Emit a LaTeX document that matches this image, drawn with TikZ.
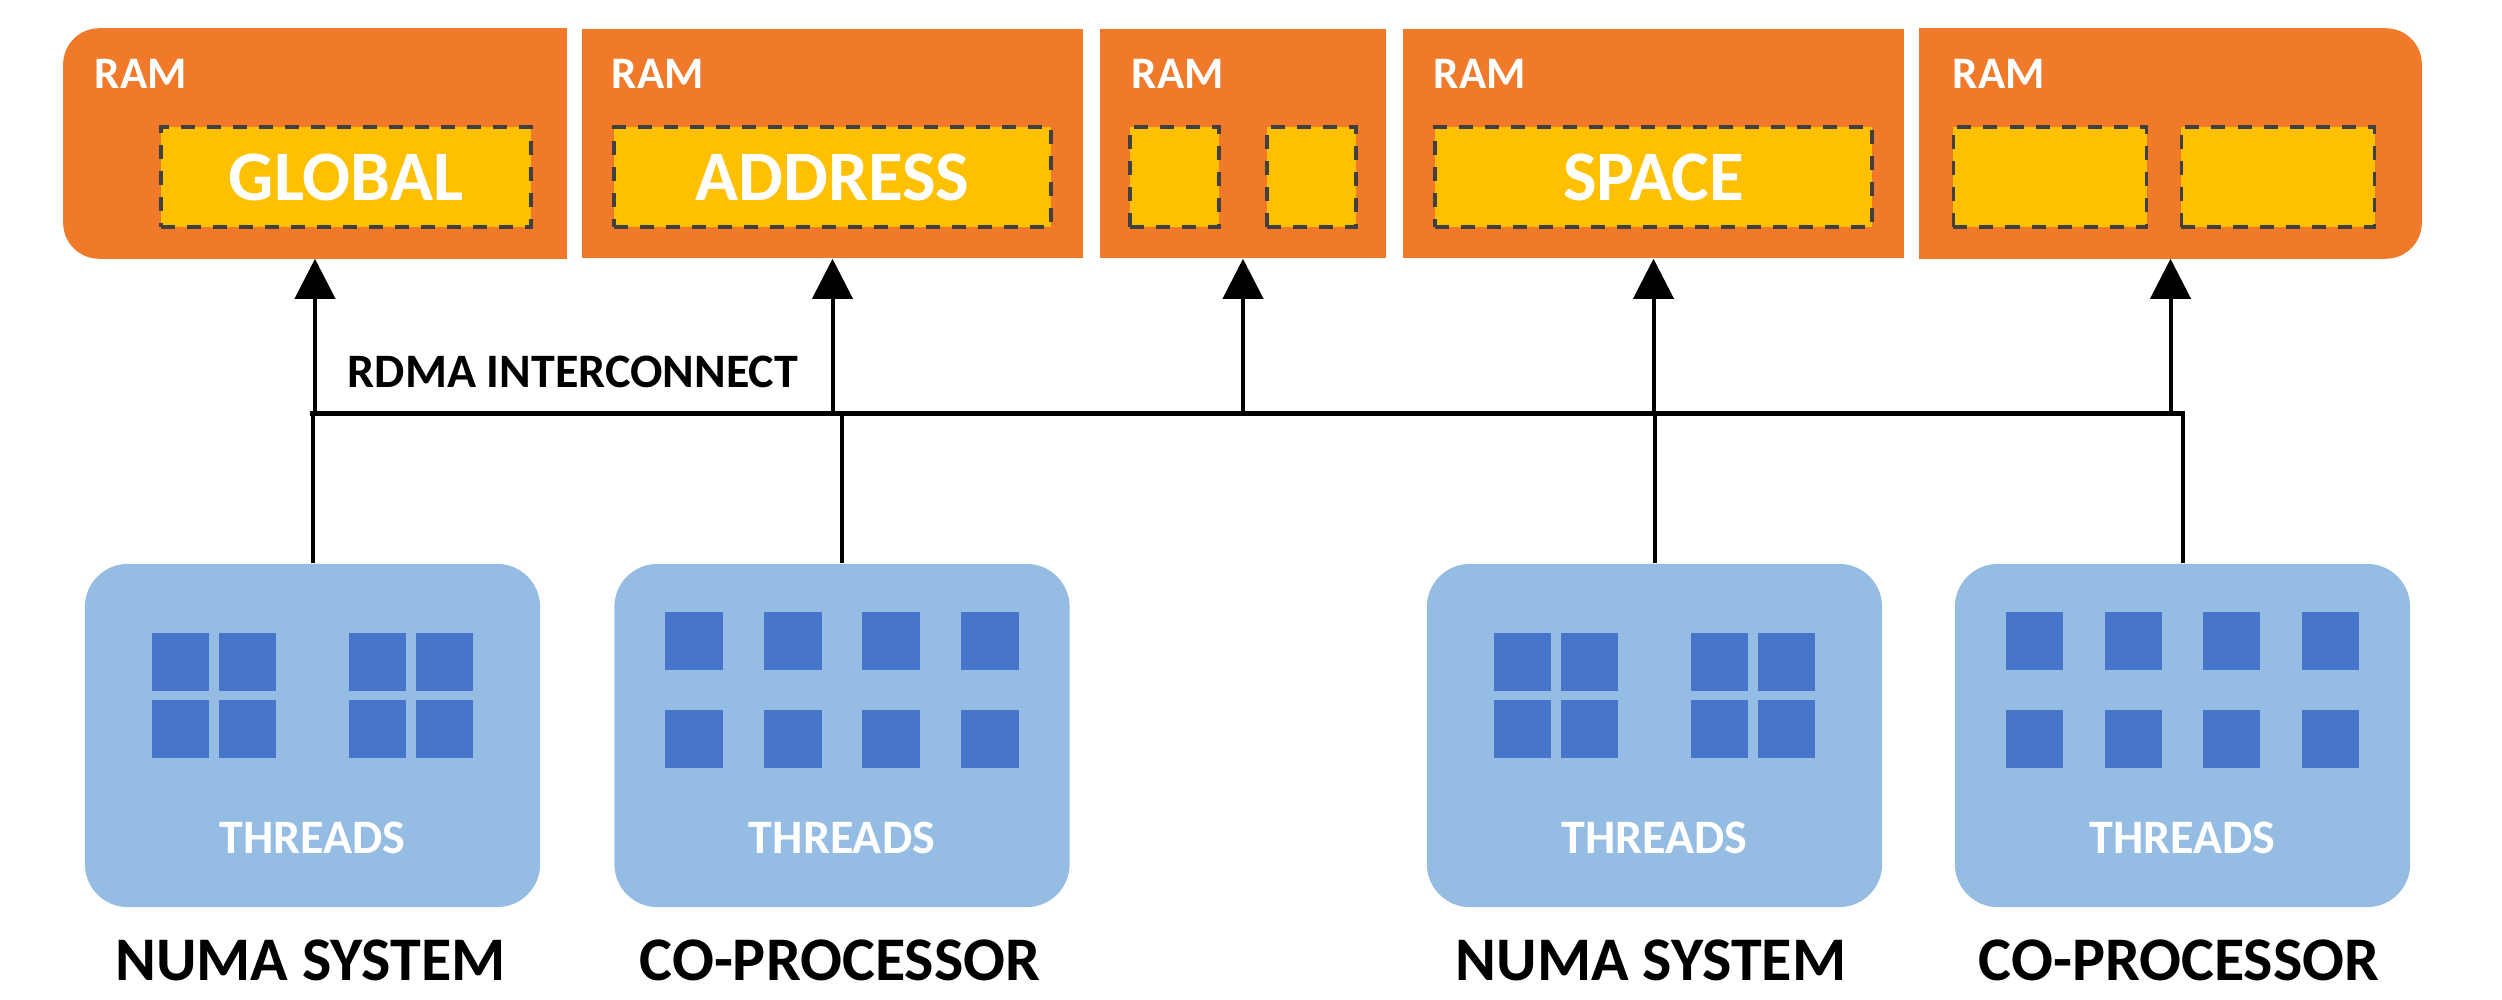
\documentclass[tikz,border=0pt]{standalone}
\usepackage{fontspec}
\setmainfont{Carlito}
\usetikzlibrary{arrows.meta}
\definecolor{ramc}{HTML}{F07A2A}
\definecolor{yelc}{HTML}{FFC000}
\definecolor{dashc}{HTML}{404040}
\definecolor{thc}{HTML}{95BDE3}
\definecolor{sqc}{HTML}{4775CA}
\tikzset{
 ramblock/.style={inner sep=0, minimum height=2.29cm},
 yelbox/.style={draw=dashc, fill=yelc, line width=0.035cm, dash pattern=on 0.14cm off 0.12cm,
   minimum height=1.0cm, inner sep=0, text=white, font=\bfseries\fontsize{20.2}{24}\selectfont},
 ramlabel/.style={anchor=base west, inner sep=0, text=white, font=\bfseries\fontsize{12.8}{15}\selectfont},
 thbox/.style={fill=thc, rounded corners=0.43cm, minimum width=4.55cm, minimum height=3.43cm, inner sep=0},
 core/.style={fill=sqc, minimum width=0.57cm, minimum height=0.57cm, inner sep=0},
 thlabel/.style={anchor=base, inner sep=0, text=white, font=\bfseries\fontsize{13.66}{16}\selectfont},
 syslabel/.style={anchor=base, inner sep=0, text=black, font=\bfseries\fontsize{17.64}{21}\selectfont},
 buslabel/.style={anchor=base west, inner sep=0, text=black, font=\bfseries\fontsize{13.66}{16}\selectfont},
 arr/.style={line width=0.04cm, -{Triangle[length=0.4cm,width=0.4cm]}},
 conn/.style={line width=0.04cm},
 busline/.style={line width=0.05cm, line cap=rect},
}
\begin{document}
\begin{tikzpicture}[x=0.01cm,y=-0.01cm]
\useasboundingbox (0,0) rectangle (2502,1000);
% RAM blocks
\node[ramblock, minimum width=5.02cm] (r1) at (315,143.5) {};
\fill[ramc, rounded corners=0.36cm] (r1.north west) rectangle (r1.south east);
\fill[ramc] (r1.north) rectangle (r1.south east);
\node[ramblock, fill=ramc, minimum width=5.01cm] (r2) at (832.5,143.5) {};
\node[ramblock, fill=ramc, minimum width=2.86cm] (r3) at (1243,143.5) {};
\node[ramblock, fill=ramc, minimum width=5.01cm] (r4) at (1653.5,143.5) {};
\node[ramblock, minimum width=5.01cm] (r5) at (2170.5,143.5) {};
\fill[ramc, rounded corners=0.36cm] (r5.north west) rectangle (r5.south east);
\fill[ramc] (r5.north west) rectangle (r5.south);
% RAM labels
\node[ramlabel] (l1) at (94,88) {RAM};
\node[ramlabel] (l2) at (611,88) {RAM};
\node[ramlabel] (l3) at (1131,88) {RAM};
\node[ramlabel] (l4) at (1433,88) {RAM};
\node[ramlabel] (l5) at (1952,88) {RAM};
% address-space parts
\node[yelbox, minimum width=3.70cm] (y1) at (346,177) {GLOBAL};
\node[yelbox, minimum width=4.37cm] (y2) at (832.5,177) {ADDRESS};
\node[yelbox, minimum width=0.89cm] (y3a) at (1174.5,177) {};
\node[yelbox, minimum width=0.89cm] (y3b) at (1311.5,177) {};
\node[yelbox, minimum width=4.37cm] (y4) at (1653.5,177) {SPACE};
\node[yelbox, minimum width=1.93cm] (y5a) at (2050,177) {};
\node[yelbox, minimum width=1.93cm] (y5b) at (2278,177) {};
% thread boxes
\node[thbox] (t1) at (312.5,735.5) {};
\node[thbox] (t2) at (842,735.5) {};
\node[thbox] (t3) at (1654.5,735.5) {};
\node[thbox] (t4) at (2182.5,735.5) {};
% cores: NUMA systems
\foreach \bx/\bn in {312.5/1,1654.5/3}{
  \foreach \dx [count=\i] in {-132,-65,65,132}{
    \foreach \yy [count=\j] in {662,729}{
      \node[core] (c\bn-\i-\j) at ({\bx+(\dx)},\yy) {};
    }
  }
}
% cores: co-processors
\foreach \bx/\bn in {842/2,2182.5/4}{
  \foreach \dx [count=\i] in {-148,-49,49,148}{
    \foreach \yy [count=\j] in {641,739}{
      \node[core] (c\bn-\i-\j) at ({\bx+(\dx)},\yy) {};
    }
  }
}
% thread labels
\node[thlabel] (h1) at (312.5,853) {THREADS};
\node[thlabel] (h2) at (842,853) {THREADS};
\node[thlabel] (h3) at (1654.5,853) {THREADS};
\node[thlabel] (h4) at (2182.5,853) {THREADS};
% system labels
\node[syslabel] (s1) at (310.5,980) {NUMA SYSTEM};
\node[syslabel] (s2) at (840,980) {CO-PROCESSOR};
\node[syslabel] (s3) at (1651,980) {NUMA SYSTEM};
\node[syslabel] (s4) at (2179,980) {CO-PROCESSOR};
% interconnect
\coordinate (busy) at (0,413);
\node[buslabel] (rdma) at (347,387) {RDMA INTERCONNECT};
\draw[busline] (t1.north |- busy) -- (t4.north |- busy);
\foreach \t in {t1,t2,t3,t4}{
  \draw[conn] (\t.north) -- (\t.north |- busy);
}
\foreach \r in {r1,r2,r3,r4,r5}{
  \draw[arr] (\r.south |- busy) -- (\r.south);
}
\end{tikzpicture}
\end{document}
